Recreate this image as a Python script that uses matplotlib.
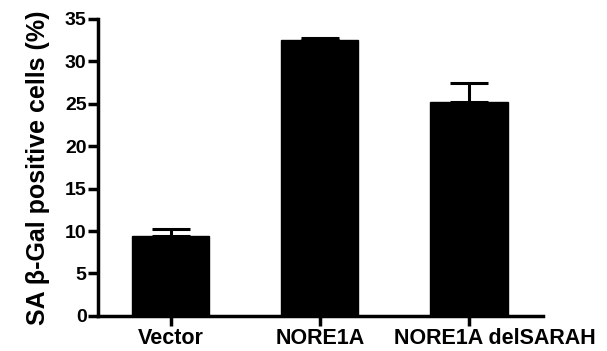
import matplotlib
matplotlib.use("Agg")
import matplotlib.pyplot as plt

groups = ["Vector", "NORE1A", "NORE1A delSARAH"]
means = [9.4, 32.55, 25.2]
errors = [0.85, 0.15, 2.25]
yticks = [0, 5, 10, 15, 20, 25, 30, 35]

plt.rcParams["font.family"] = ["Liberation Sans", "DejaVu Sans"]
plt.rcParams["font.weight"] = "bold"

fig = plt.figure(figsize=(6.07, 3.51), dpi=100)
ax = fig.add_axes([0.161, 0.1, 0.734, 0.846])

x = list(range(len(groups)))
ax.bar(x, means, width=0.52, color="black", edgecolor="black")
ax.errorbar(x, means, yerr=[[0] * len(errors), errors], fmt="none",
            ecolor="black", elinewidth=2.2, capsize=14, capthick=2.2)

ax.set_xlim(-0.49, 2.5)
ax.set_ylim(0, 35)
ax.set_yticks(yticks)
ax.set_xticks(x)
# last label sits a bit right of its tick in the original, drawn separately
ax.set_xticklabels(groups[:-1] + [""], fontsize=15.5, fontweight="bold")
ax.annotate(groups[-1], xy=(x[-1], 0), xycoords=("data", "axes fraction"),
            xytext=(19, -9), textcoords="offset points", ha="center", va="top",
            fontsize=15.5, fontweight="bold", annotation_clip=False)
ax.set_yticklabels([str(t) for t in yticks], fontsize=14, fontweight="bold")
ax.set_ylabel("SA β-Gal positive cells (%)", fontsize=18, fontweight="bold",
              labelpad=11)

for side in ("top", "right"):
    ax.spines[side].set_visible(False)
for side in ("left", "bottom"):
    ax.spines[side].set_linewidth(2.5)
ax.tick_params(axis="y", width=2.5, length=7, pad=1)
ax.tick_params(axis="x", width=2.5, length=7, pad=2)

fig.savefig("out.png", dpi=100)
